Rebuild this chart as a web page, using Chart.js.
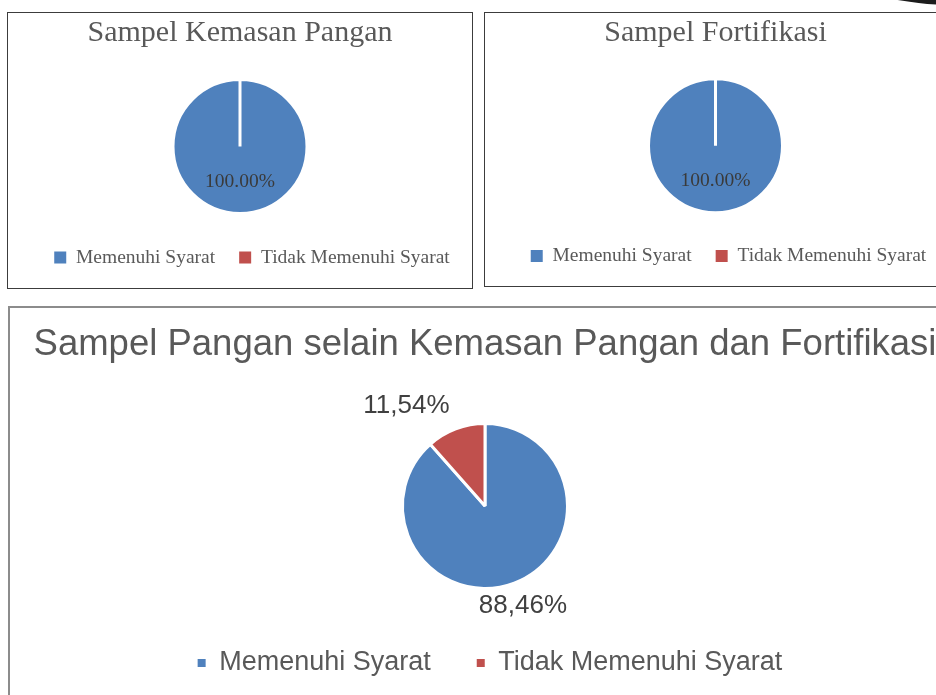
<!DOCTYPE html>
<html>
<head>
<meta charset="utf-8">
<script src="https://cdn.jsdelivr.net/npm/chart.js@4.4.1/dist/chart.umd.min.js"></script>
<style>
  html, body { margin: 0; padding: 0; background: #ffffff; width: 936px; height: 695px; overflow: hidden; position: relative; }
  .panel { position: absolute; background: #ffffff; box-sizing: border-box; }
  .panel canvas { display: block; }
  #p1 { left: 7px; top: 12px; width: 466px; height: 277px; border: 1px solid #3c3c3c; }
  #p2 { left: 484px; top: 12px; width: 463px; height: 275px; border: 1px solid #3c3c3c; }
  #p3 { left: 8px; top: 306px; width: 954px; height: 394px; border: 2px solid #8c8c8c; }
  #blob { position: absolute; left: 829px; top: -74px; width: 290px; height: 80px; border-radius: 50%; background: #1c1c1c; }
</style>
</head>
<body>
<div id="blob"></div>
<div class="panel" id="p1"><canvas id="c1" width="464" height="275"></canvas></div>
<div class="panel" id="p2"><canvas id="c2" width="461" height="273"></canvas></div>
<div class="panel" id="p3"><canvas id="c3" width="950" height="390"></canvas></div>
<script>
// ---- data ----
const categories = ['Memenuhi Syarat', 'Tidak Memenuhi Syarat'];
const sliceColors = ['#4f81bd', '#c0504d'];
const titleKemasan = 'Sampel Kemasan Pangan';
const valuesKemasan = [100, 0];
const titleFortifikasi = 'Sampel Fortifikasi';
const valuesFortifikasi = [100, 0];
const titleLainnya = 'Sampel Pangan selain Kemasan Pangan dan Fortifikasi';
const valuesLainnya = [88.46, 11.54];

// ---- plugins ----
const legendShift = {
  id: 'legendShift',
  afterLayout(chart, args, opts) {
    if (chart.legend && opts.dx) {
      chart.legend.left += opts.dx;
      chart.legend.right += opts.dx;
    }
  }
};

const sliceLabels = {
  id: 'sliceLabels',
  afterDatasetsDraw(chart, args, opts) {
    const ctx = chart.ctx;
    const meta = chart.getDatasetMeta(0);
    const data = chart.data.datasets[0].data;
    const total = data.reduce((a, b) => a + b, 0);
    meta.data.forEach((arc, i) => {
      const v = data[i];
      if (!v) return;
      const p = opts.place[i];
      const mid = (arc.startAngle + arc.endAngle) / 2;
      const r = arc.outerRadius;
      const d = p.inside ? r * p.k : r + p.k;
      const x = arc.x + Math.cos(mid) * d;
      const y = arc.y + Math.sin(mid) * d;
      let txt = (v / total * 100).toFixed(2);
      if (opts.comma) txt = txt.replace('.', ',');
      txt += '%';
      ctx.save();
      ctx.font = opts.font;
      ctx.fillStyle = opts.color;
      ctx.textAlign = p.align;
      ctx.textBaseline = p.baseline;
      ctx.fillText(txt, x, y);
      ctx.restore();
    });
  }
};

function legendLabels(chart) {
  const base = Chart.overrides.pie.plugins.legend.labels.generateLabels(chart);
  return base.map(l => Object.assign(l, { lineWidth: 0, strokeStyle: 'rgba(0,0,0,0)' }));
}

function makeChart(id, cfg) {
  return new Chart(document.getElementById(id), {
    type: 'pie',
    data: {
      labels: categories,
      datasets: [{
        data: cfg.values,
        backgroundColor: sliceColors,
        borderColor: '#ffffff',
        borderWidth: 3,
        radius: cfg.radius
      }]
    },
    options: {
      responsive: false,
      animation: false,
      events: [],
      layout: { padding: { top: 0, bottom: cfg.padBottom, left: 0, right: 0 } },
      plugins: {
        tooltip: { enabled: false },
        title: {
          display: true,
          text: cfg.title,
          color: cfg.titleColor,
          font: { family: cfg.family, size: cfg.titleSize, weight: 'normal', lineHeight: 1.2 },
          padding: { top: cfg.titlePadTop, bottom: cfg.titlePadBottom }
        },
        legend: {
          display: true,
          position: 'bottom',
          labels: {
            color: cfg.legendColor,
            font: { family: cfg.family, size: cfg.legendSize, weight: 'normal' },
            boxWidth: cfg.box,
            boxHeight: cfg.box,
            padding: cfg.legendPad,
            generateLabels: legendLabels
          }
        },
        legendShift: { dx: cfg.shift },
        sliceLabels: cfg.labels
      }
    },
    plugins: [legendShift, sliceLabels]
  });
}

const serif = '"Liberation Serif", "DejaVu Serif", serif';
const sans = '"Liberation Sans", Arial, sans-serif';

const topLabels = {
  font: '19.5px ' + serif,
  color: '#3a3a3a',
  comma: false,
  place: [{ inside: true, k: 0.53, align: 'center', baseline: 'middle' }, { inside: true, k: 0.5, align: 'center', baseline: 'middle' }]
};

makeChart('c1', {
  values: valuesKemasan, title: titleKemasan, radius: 67,
  family: serif, titleSize: 30, titleColor: '#595959', titlePadTop: 2.5, titlePadBottom: 17.75,
  legendSize: 19.5, legendColor: '#595959', box: 12, legendPad: 24, padBottom: 10.75, shift: 12,
  labels: topLabels
});

makeChart('c2', {
  values: valuesFortifikasi, title: titleFortifikasi, radius: 67,
  family: serif, titleSize: 30, titleColor: '#595959', titlePadTop: 2.5, titlePadBottom: 17.85,
  legendSize: 19.5, legendColor: '#595959', box: 12, legendPad: 24, padBottom: 10.25, shift: 13,
  labels: topLabels
});

makeChart('c3', {
  values: valuesLainnya, title: titleLainnya, radius: 82.5,
  family: sans, titleSize: 36.5, titleColor: '#595959', titlePadTop: 15.2, titlePadBottom: 41.5,
  legendSize: 27, legendColor: '#595959', box: 8, legendPad: 46, padBottom: 11.5, shift: 5,
  labels: {
    font: '26px ' + sans,
    color: '#404040',
    comma: true,
    place: [{ inside: false, k: 24.5, align: 'center', baseline: 'middle' }, { inside: false, k: 17.5, align: 'right', baseline: 'alphabetic' }]
  }
});
</script>
</body>
</html>
